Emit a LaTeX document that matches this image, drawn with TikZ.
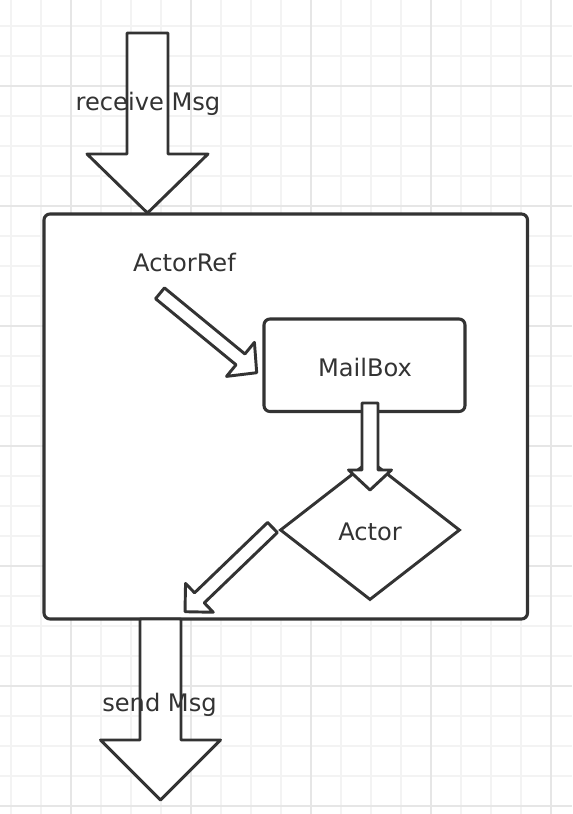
\documentclass[tikz,border=0pt]{standalone}
\usepackage{fontspec}
\setmainfont{DejaVu Sans}
\usetikzlibrary{calc,shapes.geometric}
\definecolor{ink}{HTML}{333333}
\definecolor{gridminor}{HTML}{F3F3F3}
\definecolor{gridmajor}{HTML}{E6E6E6}
% #1 tail, #2 tip, #3 shaft half width, #4 head half width, #5 head length
\newcommand\blockarrow[5]{%
  \coordinate (bahead) at ($(#2)!#5!(#1)$);
  \draw[blockarr] ($(#1)!#3!90:(#2)$) -- ($(bahead)!#3!90:(#2)$) -- ($(bahead)!#4!90:(#2)$)
    -- (#2) -- ($(bahead)!#4!-90:(#2)$) -- ($(bahead)!#3!-90:(#2)$) -- ($(#1)!#3!-90:(#2)$) -- cycle;
}
\tikzset{
  rbox/.style={draw=ink, line width=2.3pt, fill=white, rounded corners=4.5pt, inner sep=0pt},
  dbox/.style={diamond, draw=ink, line width=2.2pt, fill=white, inner sep=0pt},
  blockarr/.style={draw=ink, line width=2.2pt, fill=white, line join=round},
  lbl/.style={anchor=base, text=ink, inner sep=0pt, font=\fontsize{18.1pt}{20pt}\selectfont},
  gminor/.style={draw=gridminor, line width=1.1pt},
  gmajor/.style={draw=gridmajor, line width=1.1pt}
}
\begin{document}
\begin{tikzpicture}[x=0.75pt, y=-0.75pt]
\useasboundingbox (0,0) rectangle (572,814);
\fill[white] (0,0) rectangle (572,814);
% grid
\foreach \gx in {11,41,...,551} \draw[gminor] (\gx,0) -- (\gx,814);
\foreach \gy in {26,56,...,806} \draw[gminor] (0,\gy) -- (572,\gy);
\foreach \gx in {71,191,...,551} \draw[gmajor] (\gx,0) -- (\gx,814);
\foreach \gy in {86,206,...,806} \draw[gmajor] (0,\gy) -- (572,\gy);
% shapes
\node[rbox, minimum width=362.625pt, minimum height=303.75pt] (main) at (285.75,416.5) {};
\node[rbox, minimum width=150.75pt, minimum height=69.4pt] (mailbox) at (364.5,365.25) {};
\node[dbox, minimum width=135pt, minimum height=105pt, aspect=1.2857] (actor) at (370,530) {};
% arrow end points
\coordinate (recvTail) at (147.5,33);
\coordinate (recvTip) at (147.5,213);
\coordinate (refTail) at (160,293.3);
\coordinate (refTip) at (256.7,372.7);
\coordinate (mailTail) at (370,403);
\coordinate (mailTip) at (370,490);
\coordinate (outTail) at (272.5,527.5);
\coordinate (outTip) at (185,611.7);
\coordinate (sendTail) at (160.5,619);
\coordinate (sendTip) at (160.5,800);
% arrows
\blockarrow{recvTail}{recvTip}{15.375pt}{45.375pt}{44.25pt}
\blockarrow{refTail}{refTip}{5.25pt}{16.5pt}{15.75pt}
\blockarrow{mailTail}{mailTip}{6pt}{16.1pt}{15pt}
\blockarrow{outTail}{outTip}{5.25pt}{15pt}{15pt}
\blockarrow{sendTail}{sendTip}{15.375pt}{45pt}{45pt}
% labels
\node[lbl] (recvLbl) at (148,110) {receive Msg};
\node[lbl] (refLbl) at (184.5,271.7) {ActorRef};
\node[lbl] (mailLbl) at (365,376.7) {MailBox};
\node[lbl] (actorLbl) at (370,540) {Actor};
\node[lbl] (sendLbl) at (159.5,711) {send Msg};
\end{tikzpicture}
\end{document}
